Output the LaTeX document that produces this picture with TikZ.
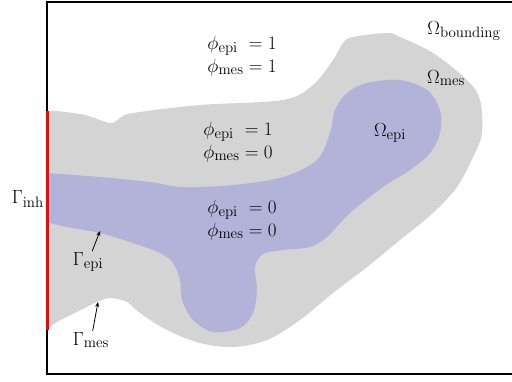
\RequirePackage{fix-cm}
\documentclass[tikz,border=0pt]{standalone}
\usepackage{tikz}
\usetikzlibrary{positioning, arrows.meta}
\usepackage{amsmath}
\usepackage{xcolor}

\definecolor{mesgray}{RGB}{212,212,212}
\definecolor{epiblue}{RGB}{179,179,217}
\DeclareMathSizes{19}{19}{15}{11}
\setlength{\jot}{0pt}

\begin{document}
\begin{tikzpicture}[
    x=1pt, y=-1pt,
    lbl/.style={font=\fontsize{19}{23}\selectfont, inner sep=1pt},
    phibox/.style={font=\fontsize{19}{23}\selectfont, inner sep=0pt},
    pointer/.style={-{Stealth[length=5pt, width=4pt]}, thick, draw=black}
]
    \useasboundingbox (0,0) rectangle (512,381);

    % Bounding domain (mesenchyme)
    \fill[mesgray] plot[smooth, tension=0.55] coordinates {
        (46,111) (57,111) (85,115) (110,123) (120,118) (133,113) (200,105)
        (283,100) (313,85) (333,60) (343,43) (353,37) (387,33) (400,37)
        (433,53) (467,80) (480,100) (482,133) (473,157) (457,187) (433,213)
        (400,240) (367,267) (333,293) (300,320) (267,340) (233,347) (200,343)
        (167,330) (140,313) (127,302) (110,298) (97,302) (77,312) (57,322)
        (46,331)} -- cycle;

    % Epithelium
    \fill[epiblue] plot[smooth, tension=0.55] coordinates {
        (46,173) (100,177) (150,182) (183,187) (233,185) (283,177) (317,160)
        (330,133) (335,110) (347,93) (367,83) (400,80) (427,90) (440,110)
        (440,133) (430,153) (410,170) (383,187) (350,213) (327,237) (310,247)
        (283,250) (263,254) (255,267) (257,290) (253,313) (240,328) (213,332)
        (193,320) (182,300) (180,280) (173,263) (160,253) (133,243) (100,233)
        (67,227) (46,222)} -- cycle;

    % Frame (right side lies outside the picture)
    \draw[line width=2pt] (513,2) -- (47,2) -- (47,374) -- (513,374);

    % Inhomogeneous boundary
    \draw[red, line width=2.5pt] (47.5,111) -- (47.5,330);

    % Level-set values
    \node[phibox] (phiout) at (242,56) {$\begin{alignedat}{2}&\phi_{\mathrm{epi}} &&= 1\\ &\phi_{\mathrm{mes}} &&= 1\end{alignedat}$};
    \node[phibox] (phimes) at (238,142) {$\begin{alignedat}{2}&\phi_{\mathrm{epi}} &&= 1\\ &\phi_{\mathrm{mes}} &&= 0\end{alignedat}$};
    \node[phibox] (phiepi) at (242,220) {$\begin{alignedat}{2}&\phi_{\mathrm{epi}} &&= 0\\ &\phi_{\mathrm{mes}} &&= 0\end{alignedat}$};

    % Domain labels
    \node[lbl] (obound) at (464,31) {$\Omega_{\mathrm{bounding}}$};
    \node[lbl] (omes) at (446,78) {$\Omega_{\mathrm{mes}}$};
    \node[lbl] (oepi) at (390,133) {$\Omega_{\mathrm{epi}}$};

    % Boundary labels
    \node[lbl, anchor=east] (ginh) at (45,199) {$\Gamma_{\mathrm{inh}}$};
    \node[lbl] (gepi) at (88,262) {$\Gamma_{\mathrm{epi}}$};
    \node[lbl] (gmes) at (91,340) {$\Gamma_{\mathrm{mes}}$};

    \coordinate (gepitip) at (100,231);
    \coordinate (gmestip) at (98,302);
    \draw[pointer] (gepi) -- (gepitip);
    \draw[pointer] (gmes) -- (gmestip);
\end{tikzpicture}
\end{document}
